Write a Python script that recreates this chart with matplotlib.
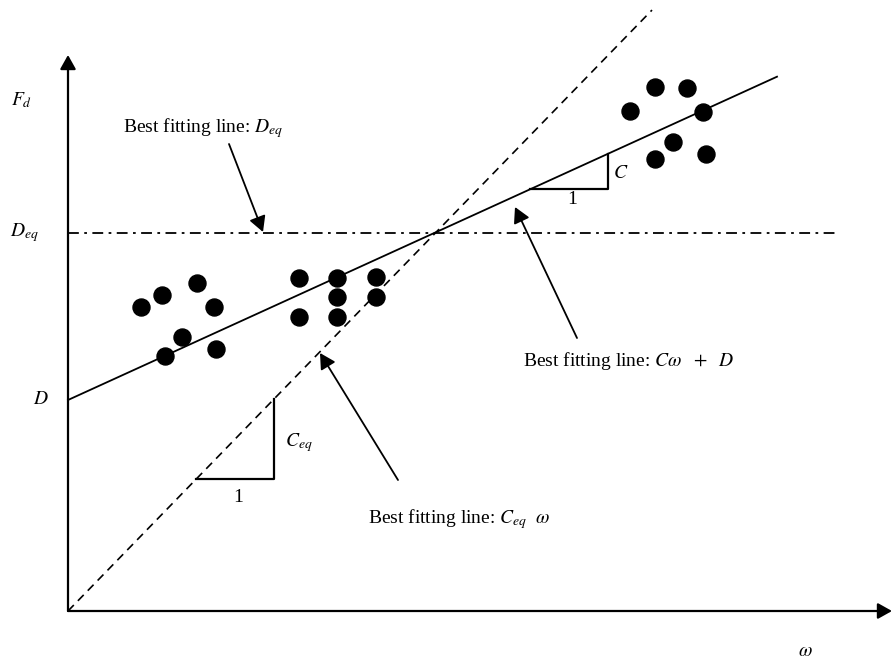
import matplotlib
matplotlib.use("Agg")
import matplotlib.pyplot as plt
import numpy as np

plt.rcParams['mathtext.fontset'] = 'stix'
plt.rcParams['font.family'] = 'Liberation Serif'

# measured force vs velocity, three clusters
omega_pts = [73, 94, 129, 146, 114, 97, 148,
             231, 269, 308, 269, 308, 231, 269,
             562, 587, 619, 635, 605, 587, 638]
fd_pts = [304, 316, 328, 304, 274, 255, 262,
          333, 333, 334, 314, 314, 294, 294,
          500, 524, 523, 499, 469, 452, 457]

# fitted models
C = 0.456      # slope of C*w + D
D = 211        # intercept of C*w + D
C_eq = 1.029   # slope of C_eq*w
D_eq = 378     # constant fit

fig = plt.figure(figsize=(8.94, 6.65), dpi=100)
ax = fig.add_axes([0, 0, 1, 1])
ax.set_xlim(-68, 826)
ax.set_ylim(-54, 611)
ax.axis('off')

# axes with arrow heads
axis_arrow = dict(arrowstyle='-|>,head_length=0.5,head_width=0.28', color='black',
                  lw=1.6, mutation_scale=17, shrinkA=0, shrinkB=0)
ax.annotate('', xy=(0, 556), xytext=(0, 0), arrowprops=axis_arrow)
ax.annotate('', xy=(824, 0), xytext=(0, 0), arrowprops=axis_arrow)

w = np.array([0, 709])
ax.plot(w, C * w + D, color='black', lw=1.3)
w = np.array([0, 584])
ax.plot(w, C_eq * w, color='black', lw=1.2, ls=(0, (5, 3.5)))
ax.plot([0, 770], [D_eq, D_eq], color='black', lw=1.3, ls=(0, (6, 3, 1.5, 3)))

ax.scatter(omega_pts, fd_pts, s=150, color='black', zorder=3)

# slope triangles
w0, w1 = 462, 540
ax.plot([w0, w1, w1], [C * w0 + D, C * w0 + D, C * w1 + D], color='black', lw=1.6)
w0, w1 = 128, 206
ax.plot([w0, w1, w1], [C_eq * w0, C_eq * w0, C_eq * w1], color='black', lw=1.6)

fs = 14
ax.text(545, 438, '$C$', fontsize=fs, va='center', ha='left')
ax.text(504, 411, '1', fontsize=fs, va='center', ha='center')
ax.text(217, 168, '$C_{eq}$', fontsize=fs, va='center', ha='left')
ax.text(170, 113, '1', fontsize=fs, va='center', ha='center')

# axis labels
ax.text(-57, 511, '$F_d$', fontsize=fs, va='center', ha='left')
ax.text(-58, D_eq, '$D_{eq}$', fontsize=fs, va='center', ha='left')
ax.text(-27, D, '$D$', fontsize=fs, va='center', ha='center')
ax.text(737, -40, r'$\omega$', fontsize=fs, va='center', ha='center')

# callouts
call = dict(arrowstyle='-|>,head_length=0.55,head_width=0.3', color='black',
            lw=1.3, mutation_scale=17, shrinkA=0, shrinkB=0)
ax.text(55, 483, 'Best fitting line: $D_{eq}$', fontsize=fs, va='center', ha='left')
ax.annotate('', xy=(195, 379), xytext=(161, 467), arrowprops=call)
ax.text(455, 250, r'Best fitting line: $C\omega\ \ +\ \ D$', fontsize=fs, va='center', ha='left')
ax.annotate('', xy=(447, 404), xytext=(509, 273), arrowprops=call)
ax.text(300, 92, r'Best fitting line: $C_{eq}\ \ \omega$', fontsize=fs, va='center', ha='left')
ax.annotate('', xy=(252, 258), xytext=(330, 131), arrowprops=call)

fig.savefig('out.png', dpi=100)
